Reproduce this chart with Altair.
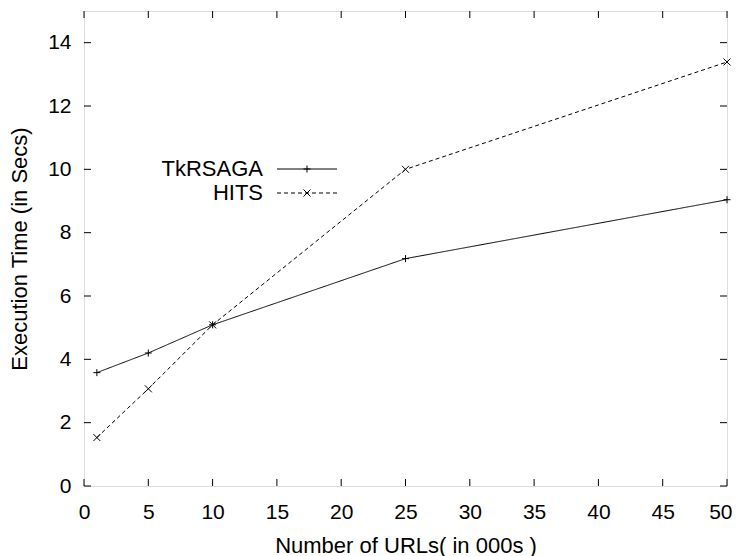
import altair as alt
import pandas as pd

# ---- data ----
urls = [1, 5, 10, 25, 50]
tkrsaga = [3.58, 4.20, 5.09, 7.18, 9.04]
hits = [1.53, 3.07, 5.09, 10.0, 13.39]
series_names = ["TkRSAGA", "HITS"]
x_ticks = [0, 5, 10, 15, 20, 25, 30, 35, 40, 45, 50]
y_ticks = [0, 2, 4, 6, 8, 10, 12, 14]

W, H = 643, 475
FONT = "Liberation Sans"
LFS = 21   # tick labels
TFS = 22   # titles / key
TICK = 7

df = pd.DataFrame({
    "x": urls * 2,
    "y": tkrsaga + hits,
    "series": [series_names[0]] * len(urls) + [series_names[1]] * len(urls),
})
xt = pd.DataFrame({"x": x_ticks})
yt = pd.DataFrame({"y": y_ticks})
leg = pd.DataFrame({"series": series_names})

xs = alt.Scale(domain=[0, 50], nice=False, zero=False)
ys = alt.Scale(domain=[0, 15], nice=False, zero=False)

PLUS = "M-1,0L1,0M0,-1L0,1"
CROSS = "M-1,-1L1,1M-1,1L1,-1"
dash_scale = alt.Scale(domain=series_names, range=[[1, 0], [4, 3]])
shape_scale = alt.Scale(domain=series_names, range=[PLUS, CROSS])

last_x = x_ticks[-1]
x_axis = alt.Axis(
    values=x_ticks, title="Number of URLs( in 000s )", ticks=False, tickSize=0,
    domain=False, grid=False, labelPadding=15, labelFont=FONT, labelFontSize=LFS,
    labelColor="black", labelFlush=False, labelOverlap=False,
    labelAlign=alt.ExprRef(expr=f"datum.value == {last_x} ? 'right' : 'center'"),
    labelOffset=alt.ExprRef(expr=f"datum.value == {last_x} ? 5 : 0"),
    titleFont=FONT, titleFontSize=TFS, titleFontWeight="normal", titleColor="black",
    titleY=66, titleBaseline="alphabetic",
)
y_axis = alt.Axis(
    values=y_ticks, title="Execution Time (in Secs)", ticks=False, tickSize=0,
    domain=False, grid=False, labelPadding=13, labelFont=FONT, labelFontSize=LFS,
    labelColor="black", labelFlush=False, labelOverlap=False,
    titleFont=FONT, titleFontSize=TFS, titleFontWeight="normal", titleColor="black",
    titleX=-58, titleBaseline="alphabetic",
)

X = alt.X("x:Q", scale=xs, axis=x_axis)
Y = alt.Y("y:Q", scale=ys, axis=y_axis)

lines = alt.Chart(df).mark_line(color="black", strokeWidth=1).encode(
    x=X, y=Y,
    strokeDash=alt.StrokeDash("series:N", scale=dash_scale, legend=None),
    detail="series:N",
)
points = alt.Chart(df).mark_point(filled=False, color="black", strokeWidth=1, size=49, opacity=1).encode(
    x=X, y=Y,
    shape=alt.Shape("series:N", scale=shape_scale, legend=None),
)

# inward ticks on all four sides (gnuplot style)
tick_style = dict(color="black", strokeWidth=1)
xb = alt.Chart(xt).mark_rule(**tick_style).encode(
    x=X, y=alt.value(H), y2=alt.value(H - TICK))
xtop = alt.Chart(xt).mark_rule(**tick_style).encode(
    x=X, y=alt.value(0), y2=alt.value(TICK))
yl = alt.Chart(yt).mark_rule(**tick_style).encode(
    y=Y, x=alt.value(0), x2=alt.value(TICK))
yr = alt.Chart(yt).mark_rule(**tick_style).encode(
    y=Y, x=alt.value(W), x2=alt.value(W - TICK))

# key (label left of sample, as in gnuplot)
legend_layers = []
for i, name in enumerate(series_names):
    ly = 158 + 24 * i
    src = alt.Chart(leg).transform_filter(alt.datum.series == name)
    legend_layers.append(src.mark_text(align="right", baseline="alphabetic", font=FONT,
                                       fontSize=TFS, color="black").encode(
        x=alt.value(179), y=alt.value(ly + 7), text="series:N"))
    legend_layers.append(src.mark_rule(color="black", strokeWidth=1,
                                       strokeDash=[1, 0] if i == 0 else [4, 3]).encode(
        x=alt.value(193), x2=alt.value(253), y=alt.value(ly)))
    legend_layers.append(src.mark_point(shape=PLUS if i == 0 else CROSS, filled=False,
                                        color="black", strokeWidth=1, size=49, opacity=1).encode(
        x=alt.value(223), y=alt.value(ly)))

chart = alt.layer(lines, points, xb, xtop, yl, yr, *legend_layers).properties(
    width=W, height=H,
    autosize=alt.AutoSizeParams(type="none"),
    padding={"left": 76, "top": 3, "right": 5, "bottom": 70},
).configure_view(stroke="black", strokeWidth=1.5).configure(background="white")

chart.save("out.html", embed_options={"renderer": "svg", "actions": False})
